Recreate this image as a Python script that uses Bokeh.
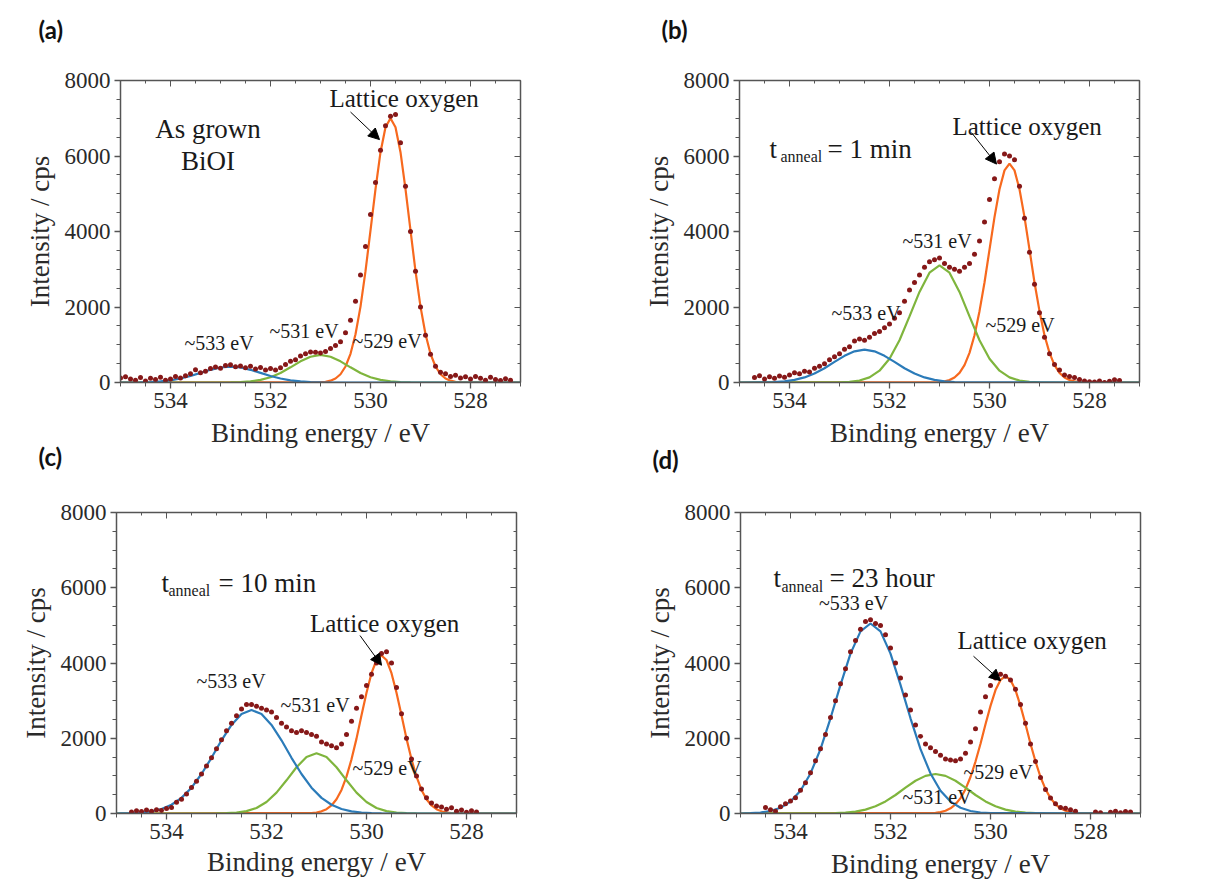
import numpy as np
from bokeh.plotting import figure
from bokeh.models import (Range1d, LinearAxis, SingleIntervalTicker, Label,
                          Arrow, NormalHead, Title)
from bokeh.layouts import column, row
from bokeh.embed import file_html
from bokeh.resources import INLINE

# ---------------- data (binding energy grids: start value, step -> samples) ----------------
# measured points (0.1 eV sampling, descending energy)
a_data_start = 535.0
a_data = [120, 150, 90, 60, 130, 40, 110, 80, 140, 60, 90, 160, 120, 180, 230, 340, 260, 300,
          370, 410, 380, 450, 470, 420, 440, 390, 430, 360, 400, 330, 370, 330, 390, 480, 560,
          600, 700, 760, 810, 800, 780, 820, 900, 980, 1080, 1320, 1650, 2150, 2850, 3600,
          4450, 5300, 6150, 6800, 7050, 7100, 6350, 5200, 4000, 2950, 2000, 1250, 750, 430,
          270, 230, 160, 190, 120, 150, 90, 160, 110, 60, 140, 80, 50, 100, 60]
b_data_start = 534.7
b_data = [130, 180, 90, 150, 110, 170, 140, 200, 260, 230, 300, 280, 380, 430, 500, 600, 680,
          760, 880, 950, 1100, 1150, 1120, 1200, 1300, 1350, 1450, 1550, 1700, 1850, 2150, 2450,
          2650, 2850, 3050, 3200, 3250, 3300, 3150, 3050, 3000, 2950, 3050, 3150, 3400, 3750,
          4250, 4850, 5400, 5850, 6050, 6000, 5900, 5200, 4350, 3450, 2600, 1850, 1200, 760,
          480, 330, 200, 160, 130, 80, 40, 20, 10, 40, 0, 30, 70, 50]
c_data_start = 534.7
c_data = [40, 70, 50, 90, 60, 100, 80, 130, 160, 300, 380, 520, 690, 860, 1050, 1260, 1480,
          1720, 1960, 2200, 2400, 2600, 2780, 2900, 2900, 2850, 2800, 2750, 2700, 2550, 2400,
          2300, 2200, 2150, 2200, 2150, 2100, 2050, 1900, 1850, 1800, 1750, 1850, 2100, 2450,
          2800, 3100, 3400, 3700, 4000, 4250, 4300, 4000, 3350, 2650, 2000, 1450, 1000, 650,
          420, 280, 200, 170, 110, 150, 60, 90, 30, 70, 40]
nan = float("nan")
d_data_start = 534.5
d_data = [160, 100, 60, 180, 260, 330, 420, 620, 820, 1080, 1400, 1720, 2100, 2550, 3000, 3450,
          3850, 4300, 4600, 4900, 5100, 5150, 5050, 5000, 4750, 4400, 4000, 3600, 3150, 2750,
          2350, 2050, 1850, 1750, 1650, 1550, 1450, 1420, 1400, 1450, 1600, 1900, 2250, 2700,
          3100, 3400, 3600, 3700, 3650, 3550, 3300, 2900, 2400, 1850, 1380, 960, 640, 410, 260,
          160, 140, 100, 60, nan, nan, nan, 40, 20, nan, 30, 60, 20, 50, 40]
data_step = 0.1

# fitted components: (start energy, step, values)
a_orange = (531.0, 0.1, [8, 20, 48, 106, 219, 424, 760, 1280, 2010, 2950, 4030, 5120, 6100, 6760,
                         7000, 6760, 6100, 5120, 4030, 2950, 2010, 1280, 760, 424, 219, 106, 48, 20, 8])
a_green = (532.8, 0.2, [3, 11, 29, 68, 140, 253, 402, 561, 683, 730, 683, 561, 402, 253, 140, 68,
                        29, 11, 3])
a_blue = (534.6, 0.2, [5, 12, 28, 57, 105, 173, 255, 336, 397, 420, 397, 336, 255, 173, 105, 57,
                       28, 12, 5])

b_orange = (531.0, 0.1, [13, 30, 64, 132, 255, 462, 785, 1250, 1890, 2650, 3520, 4380, 5120, 5620,
                         5800, 5620, 5120, 4380, 3520, 2650, 1890, 1250, 785, 462, 255, 132, 64, 30, 13])
b_green = (533.0, 0.2, [5, 18, 52, 136, 313, 630, 1120, 1750, 2400, 2910, 3100, 2910, 2400, 1750,
                        1120, 630, 313, 136, 52, 18, 5])
b_blue = (534.5, 0.2, [5, 13, 31, 68, 134, 237, 378, 545, 706, 826, 870, 826, 706, 545, 378, 237,
                       134, 68, 31, 13, 5])

c_orange = (531.1, 0.1, [12, 27, 58, 115, 214, 378, 626, 980, 1440, 1990, 2610, 3210, 3730, 4080,
                         4200, 4080, 3730, 3210, 2610, 1990, 1440, 980, 626, 378, 214, 115, 58, 27, 12])
c_green = (533.0, 0.2, [2, 8, 23, 63, 148, 306, 555, 882, 1230, 1500, 1600, 1500, 1230, 882, 555,
                        306, 148, 63, 23, 8, 2])
c_blue = (534.9, 0.2, [4, 11, 26, 58, 121, 233, 415, 686, 1050, 1480, 1945, 2355, 2645, 2750, 2645,
                       2355, 1945, 1480, 1050, 686, 415, 233, 121, 58, 26, 11, 4])

d_orange = (531.1, 0.1, [18, 38, 74, 139, 245, 409, 646, 970, 1380, 1855, 2370, 2860, 3280, 3550,
                         3650, 3550, 3280, 2860, 2370, 1855, 1380, 970, 646, 409, 245, 139, 74, 38, 18])
d_green = (533.3, 0.2, [3, 9, 23, 50, 103, 191, 321, 492, 686, 870, 1000, 1050, 1000, 870, 686, 492,
                        321, 191, 103, 50, 23, 9, 3])
d_blue = (534.8, 0.2, [10, 27, 67, 152, 317, 606, 1065, 1710, 2530, 3420, 4250, 4840, 5050, 4840,
                       4250, 3420, 2530, 1710, 1065, 606, 317, 152, 67, 27, 10])

x_ticks_interval = 2
y_ticks_interval = 2000
panel_letters = ["(a)", "(b)", "(c)", "(d)"]

# ---------------- styling ----------------
SERIF = "Liberation Serif"
C_DOT = "#861818"
C_BLUE = "#2b7bb9"
C_ORANGE = "#f7691e"
C_GREEN = "#7fb53d"
AX = "#555555"
TXT = "#1a1a1a"


def grid(start, step, n):
    return start - step * np.arange(n)


def component(spec):
    start, step, vals = spec
    e = grid(start, step, len(vals))
    e = np.concatenate([[535.0], e, [527.0]])
    v = np.concatenate([[0.0], np.array(vals, dtype=float), [0.0]])
    return e, v


def style_title(t, text, offset, standoff, valign="bottom"):
    t.text = text
    t.align = "left"
    t.vertical_align = valign
    t.offset = offset
    t.standoff = standoff
    t.text_font = "Lato"
    t.text_font_style = "bold"
    t.text_font_size = "24px"
    t.text_color = "#111111"


def make_panel(w, h, bl, br, bt, bb, data_start, data, comps, xlabel_standoff=7):
    p = figure(width=w, height=h, x_range=Range1d(535, 527), y_range=Range1d(0, 8000),
               output_backend="svg", toolbar_location=None,
               min_border_left=bl, min_border_right=br, min_border_top=bt, min_border_bottom=bb,
               x_axis_label="Binding energy / eV", y_axis_label="Intensity / cps")
    p.xgrid.visible = False
    p.ygrid.visible = False
    p.outline_line_color = None
    p.background_fill_color = "white"
    p.border_fill_color = "white"

    p.xaxis.ticker = SingleIntervalTicker(interval=x_ticks_interval, num_minor_ticks=4)
    p.yaxis.ticker = SingleIntervalTicker(interval=y_ticks_interval, num_minor_ticks=4)
    for ax in (p.xaxis[0], p.yaxis[0]):
        ax.axis_line_color = AX
        ax.axis_line_width = 1.5
        ax.major_tick_line_color = AX
        ax.minor_tick_line_color = AX
        ax.major_tick_line_width = 1.3
        ax.major_tick_out = 6
        ax.major_tick_in = 0
        ax.minor_tick_out = 4
        ax.minor_tick_in = 0
        ax.major_label_text_font = SERIF
        ax.major_label_text_font_size = "23px"
        ax.major_label_text_color = "#2a2a2a"
        ax.major_label_standoff = 4
        ax.axis_label_text_font = SERIF
        ax.axis_label_text_font_size = "27px"
        ax.axis_label_text_font_style = "normal"
        ax.axis_label_text_color = "#2a2a2a"
        ax.axis_label_standoff = 7
    p.xaxis[0].axis_label_standoff = xlabel_standoff

    top = LinearAxis(ticker=SingleIntervalTicker(interval=x_ticks_interval, num_minor_ticks=4))
    right = LinearAxis(ticker=SingleIntervalTicker(interval=y_ticks_interval, num_minor_ticks=4))
    for ax in (top, right):
        ax.axis_line_color = AX
        ax.axis_line_width = 1.5
        ax.major_tick_line_color = AX
        ax.minor_tick_line_color = AX
        ax.major_tick_in = 6
        ax.major_tick_out = 0
        ax.minor_tick_in = 3
        ax.minor_tick_out = 0
        ax.major_label_text_font_size = "0px"
        ax.major_label_text_alpha = 0
        ax.major_label_standoff = 0
    p.add_layout(top, "above")
    p.add_layout(right, "right")

    for spec, col in comps:
        e, v = component(spec)
        p.line(e, v, line_width=2.2, color=col)
    e = grid(data_start, data_step, len(data))
    p.scatter(e, np.array(data, dtype=float), size=5, marker="circle",
              fill_color=C_DOT, line_color=None)
    return p


def label(p, x, y, text, size, align="left", baseline="middle"):
    p.add_layout(Label(x=x, y=y, text=text, text_font=SERIF, text_font_size=size,
                       text_color=TXT, text_align=align, text_baseline=baseline))


def arrow(p, x0, y0, x1, y1):
    p.add_layout(Arrow(end=NormalHead(size=11, fill_color="black", line_color="black"),
                       x_start=x0, y_start=y0, x_end=x1, y_end=y1,
                       line_color="black", line_width=1))


def tanneal(p, x, y, xs, ys, xr, rest):
    label(p, x, y, "t", "27px", baseline="alphabetic")
    label(p, xs, ys, "anneal", "16px", baseline="alphabetic")
    label(p, xr, y, rest, "27px", baseline="alphabetic")


pa = make_panel(600, 474, 120, 80, 80, 87, a_data_start, a_data,
                [(a_orange, C_ORANGE), (a_green, C_GREEN), (a_blue, C_BLUE)])
pb = make_panel(605, 474, 139, 66, 75, 92, b_data_start, b_data,
                [(b_orange, C_ORANGE), (b_green, C_GREEN), (b_blue, C_BLUE)])
pc = make_panel(600, 414, 116, 84, 38, 71, c_data_start, c_data,
                [(c_orange, C_ORANGE), (c_green, C_GREEN), (c_blue, C_BLUE)], xlabel_standoff=5)
pd = make_panel(605, 414, 140, 65, 33, 75, d_data_start, d_data,
                [(d_orange, C_ORANGE), (d_green, C_GREEN), (d_blue, C_BLUE)])

# panel letters: (a)/(b) as figure titles (a blank second line lifts them), (c)/(d) as titles
# below the upper panels
style_title(pa.title, panel_letters[0] + "\n ", -82, 12, valign="top")
style_title(pb.title, panel_letters[1] + "\n ", -78, 12, valign="top")
tc = Title()
style_title(tc, panel_letters[2], -82, -22)
pa.add_layout(tc, "below")
td = Title()
style_title(td, panel_letters[3], -87, -15)
pb.add_layout(td, "below")

# panel (a)
label(pa, 530.82, 7530, "Lattice oxygen", "25px")
arrow(pa, 530.4, 7165, 529.82, 6435)
label(pa, 533.25, 6720, "As grown", "27px", align="center")
label(pa, 533.25, 5870, "BiOI", "27px", align="center")
label(pa, 533.72, 1050, "~533 eV", "20px")
label(pa, 532.02, 1355, "~531 eV", "20px")
label(pa, 530.36, 1094, "~529 eV", "20px")

# panel (b)
tanneal(pb, 534.4, 6175, 534.18, 6000, 533.24, "= 1 min")
label(pb, 530.74, 6780, "Lattice oxygen", "25px")
arrow(pb, 530.36, 6620, 529.86, 5785)
label(pb, 533.16, 1830, "~533 eV", "20px")
label(pb, 531.74, 3750, "~531 eV", "20px")
label(pb, 530.08, 1530, "~529 eV", "20px")

# panel (c)
tanneal(pc, 534.1, 6138, 533.96, 5930, 532.96, "= 10 min")
label(pc, 531.13, 5050, "Lattice oxygen", "25px")
arrow(pc, 530.13, 4730, 529.7, 3940)
label(pc, 533.4, 3520, "~533 eV", "20px")
label(pc, 531.72, 2890, "~531 eV", "20px")
label(pc, 530.28, 1206, "~529 eV", "20px")

# panel (d)
tanneal(pd, 534.34, 6266, 534.18, 6020, 533.22, "= 23 hour")
label(pd, 533.43, 5585, "~533 eV", "20px")
label(pd, 530.66, 4585, "Lattice oxygen", "25px")
arrow(pd, 530.34, 4180, 529.8, 3530)
label(pd, 530.54, 1107, "~529 eV", "20px")
label(pd, 531.76, 427, "~531 eV", "20px")

layout = column(row(pa, pb), row(pc, pd))
open("out.html", "w").write(file_html(layout, INLINE))
